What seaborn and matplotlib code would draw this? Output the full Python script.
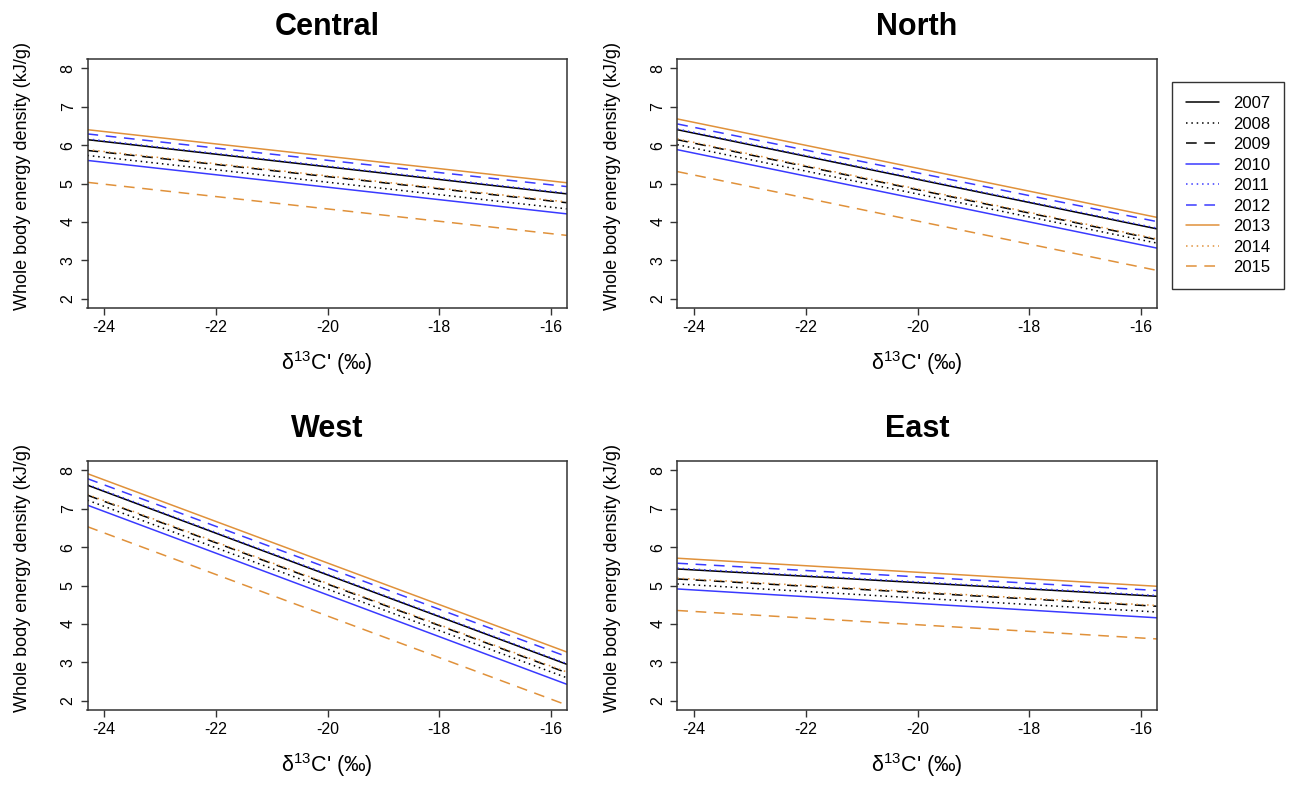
import pandas as pd
import matplotlib
matplotlib.use("Agg")
import matplotlib.pyplot as plt
import seaborn as sns

# Data
years = ["2007", "2008", "2009", "2010", "2011", "2012", "2013", "2014", "2015"]
regions = ["Central", "North", "West", "East"]
x_ends = [-24.3, -15.72]

central_left  = [6.14, 5.73, 5.86, 5.60, 6.16, 6.29, 6.40, 5.88, 5.03]
central_right = [4.73, 4.34, 4.50, 4.21, 4.75, 4.92, 5.02, 4.52, 3.65]
north_left    = [6.40, 6.01, 6.14, 5.88, 6.42, 6.55, 6.68, 6.16, 5.31]
north_right   = [3.82, 3.45, 3.54, 3.32, 3.84, 4.01, 4.12, 3.56, 2.74]
west_left     = [7.61, 7.22, 7.35, 7.09, 7.63, 7.78, 7.91, 7.37, 6.53]
west_right    = [2.95, 2.60, 2.73, 2.43, 2.97, 3.15, 3.27, 2.75, 1.89]
east_left     = [5.43, 5.04, 5.17, 4.91, 5.45, 5.58, 5.71, 5.19, 4.35]
east_right    = [4.72, 4.31, 4.46, 4.16, 4.74, 4.87, 4.98, 4.48, 3.61]

ends = {
    "Central": (central_left, central_right),
    "North": (north_left, north_right),
    "West": (west_left, west_right),
    "East": (east_left, east_right),
}

rows = []
for reg in regions:
    left, right = ends[reg]
    for i, yr in enumerate(years):
        rows.append({"region": reg, "year": yr, "x": x_ends[0], "y": left[i]})
        rows.append({"region": reg, "year": yr, "x": x_ends[1], "y": right[i]})
df = pd.DataFrame(rows)

# Styling
sns.set_style("white")
plt.rcParams["font.family"] = ["Liberation Sans", "DejaVu Sans"]
plt.rcParams["mathtext.fontset"] = "custom"
plt.rcParams["mathtext.rm"] = "Liberation Sans"
plt.rcParams["axes.unicode_minus"] = False
plt.rcParams["text.color"] = "black"
plt.rcParams["axes.labelcolor"] = "black"
plt.rcParams["xtick.color"] = "black"
plt.rcParams["ytick.color"] = "black"

blk, blu, org = "#000000", "#3a3aff", "#e0913a"
palette = {"2007": blk, "2008": blk, "2009": blk,
           "2010": blu, "2011": blu, "2012": blu,
           "2013": org, "2014": org, "2015": org}
solid, dotted, dashed = "", (1, 2.5), (7, 5)
dashes = {"2007": solid, "2008": dotted, "2009": dashed,
          "2010": solid, "2011": dotted, "2012": dashed,
          "2013": solid, "2014": dotted, "2015": dashed}

fig = plt.figure(figsize=(12.9, 7.85), dpi=100)
W, H = 1290, 785
boxes = {
    "Central": (87.5, 59, 566.7, 308),
    "North": (677.3, 59, 1156.7, 308),
    "West": (87.5, 461, 566.7, 710),
    "East": (677.3, 461, 1156.7, 710),
}

for reg in regions:
    x0, y0, x1, y1 = boxes[reg]
    ax = fig.add_axes([x0 / W, 1 - y1 / H, (x1 - x0) / W, (y1 - y0) / H])
    sns.lineplot(data=df[df["region"] == reg], x="x", y="y", hue="year",
                 style="year", palette=palette, dashes=dashes,
                 linewidth=1.1, legend=False, ax=ax, estimator=None)
    ax.set_xlim(x_ends)
    ax.set_ylim(1.76, 8.24)
    ax.set_xticks([-24, -22, -20, -18, -16])
    ax.set_yticks([2, 3, 4, 5, 6, 7, 8])
    ax.tick_params(axis="both", direction="out", length=5, width=1,
                   labelsize=11.5, color="#333333", pad=3.5,
                   bottom=True, left=True)
    ax.tick_params(axis="y", labelrotation=90)
    for lab in ax.get_yticklabels():
        lab.set_va("center")
    for sp in ax.spines.values():
        sp.set_color("#333333")
        sp.set_linewidth(1.1)
    ax.set_title(reg, fontsize=22, fontweight="bold", pad=17)
    ax.set_xlabel("δ$^{13}$C' (‰)", fontsize=15.5)
    ax.set_ylabel("Whole body energy density (kJ/g)", fontsize=13)
    ax.xaxis.set_label_coords(0.5, -0.165)
    ax.yaxis.set_label_coords(-0.118, 0.53)
    if reg == "Central":
        handles = ax.get_lines()

fig.legend(handles, years, loc="upper left",
           bbox_to_anchor=(1172 / W, 1 - 82 / H), fontsize=12,
           frameon=True, fancybox=False, edgecolor="black",
           borderaxespad=0, handlelength=1.95, labelspacing=0.33,
           borderpad=0.85, handletextpad=0.85)
fig.legends[0].get_frame().set_linewidth(1.0)

plt.savefig("out.png", dpi=100)
